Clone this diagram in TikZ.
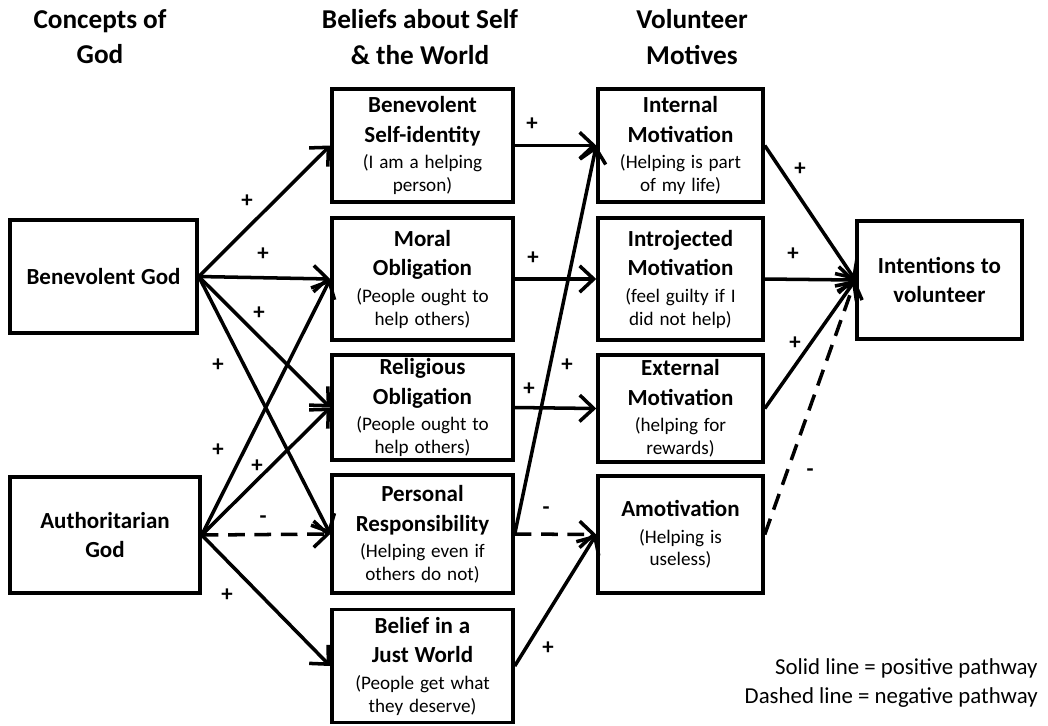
\documentclass[tikz,border=0pt]{standalone}
\usepackage{fontspec}
\setmainfont{Carlito}
\usetikzlibrary{arrows.meta}

\newcommand{\bhead}[1]{{\fontsize{13.1}{17}\selectfont\bfseries #1\par}}
\newcommand{\bnote}[1]{{\fontsize{10.9}{13}\selectfont\vspace{2pt}#1\par}}

\tikzset{
  box/.style={draw, line width=2pt, align=center, inner sep=1pt},
  pos path/.style={line width=2pt, -{Straight Barb[length=8pt,width=15pt]}},
  neg path/.style={pos path, dash pattern=on 9.5pt off 5.5pt},
  sign/.style={font=\fontsize{13}{15}\selectfont\bfseries, inner sep=0pt},
  heading/.style={align=center, font=\fontsize{15.5}{20}\selectfont\bfseries},
  legend/.style={anchor=east, font=\fontsize{13}{15}\selectfont, inner sep=0pt},
}

\begin{document}
\begin{tikzpicture}[x=0.02cm, y=-0.02cm]
    \useasboundingbox (0,0) rectangle (1048,725);

    % column headings
    \node[heading] (hGod) at (100,37) {Concepts of\\God};
    \node[heading] (hBelief) at (420,37) {Beliefs about Self\\\& the World};
    \node[heading] (hMotive) at (692,37) {Volunteer\\Motives};

    % concepts of God
    \node[box, minimum width=3.74cm, minimum height=2.26cm, text width=3.5cm] (bg) at (103.5,276.5) {\bhead{Benevolent God}};
    \node[box, minimum width=3.8cm, minimum height=2.32cm, text width=3.5cm] (ag) at (105,535) {\bhead{Authoritarian\\God}};

    % beliefs about self and the world
    \node[box, minimum width=3.62cm, minimum height=2.26cm, text width=3.4cm] (si) at (422.5,145.5) {\bhead{Benevolent\\Self-identity}\bnote{(I am a helping\\person)}};
    \node[box, minimum width=3.62cm, minimum height=2.44cm, text width=3.4cm] (mo) at (422.5,279) {\bhead{Moral\\Obligation}\bnote{(People ought to\\help others)}};
    \node[box, minimum width=3.62cm, minimum height=2.1cm, text width=3.4cm] (ro) at (422.5,407.5) {\bhead{Religious\\Obligation}\bnote{(People ought to\\help others)}};
    \node[box, minimum width=3.62cm, minimum height=2.36cm, text width=3.4cm] (pr) at (422.5,534) {\bhead{Personal\\Responsibility}\bnote{(Helping even if\\others do not)}};
    \node[box, minimum width=3.62cm, minimum height=2.26cm, text width=3.4cm] (jw) at (422.5,666) {\bhead{Belief in a\\Just World}\bnote{(People get what\\they deserve)}};

    % volunteer motives
    \node[box, minimum width=3.3cm, minimum height=2.26cm, text width=3.1cm] (im) at (680.5,145.5) {\bhead{Internal\\Motivation}\bnote{(Helping is part\\of my life)}};
    \node[box, minimum width=3.3cm, minimum height=2.44cm, text width=3.1cm] (ij) at (680.5,279) {\bhead{Introjected\\Motivation}\bnote{(feel guilty if I\\did not help)}};
    \node[box, minimum width=3.3cm, minimum height=2.14cm, text width=3.1cm] (ex) at (680.5,408.5) {\bhead{External\\Motivation}\bnote{(helping for\\rewards)}};
    \node[box, minimum width=3.3cm, minimum height=2.34cm, text width=3.1cm] (am) at (680.5,534.5) {\bhead{Amotivation}\bnote{(Helping is\\useless)}};

    % outcome
    \node[box, minimum width=3.3cm, minimum height=2.36cm, text width=3.1cm] (iv) at (939.5,280) {\bhead{Intentions to\\volunteer}};

    % pathways from concepts of God
    \draw[pos path] (bg.east) -- (si.west);
    \draw[pos path] (bg.east) -- (mo.west);
    \draw[pos path] (bg.east) -- (ro.west);
    \draw[pos path] (bg.east) -- (pr.west);
    \draw[pos path] (ag.east) -- (mo.west);
    \draw[pos path] (ag.east) -- (ro.west);
    \draw[neg path] (ag.east) -- (pr.west);
    \draw[pos path] (ag.east) -- (jw.west);

    % pathways to motives
    \draw[pos path] (si.east) -- (im.west);
    \draw[pos path] (mo.east) -- (ij.west);
    \draw[pos path] (ro.east) -- (ex.west);
    \draw[pos path] (pr.east) -- (im.west);
    \draw[neg path] (pr.east) -- (am.west);
    \draw[pos path] (jw.east) -- (am.west);

    % pathways to intentions
    \draw[pos path] (im.east) -- (iv.west);
    \draw[pos path] (ij.east) -- (iv.west);
    \draw[pos path] (ex.east) -- (iv.west);
    \draw[neg path] (am.east) -- (iv.west);

    % signs
    \node[sign] (s1) at (247,201) {+};
    \node[sign] (s2) at (263,254) {+};
    \node[sign] (s3) at (259,313) {+};
    \node[sign] (s4) at (218,365) {+};
    \node[sign] (s5) at (218,450) {+};
    \node[sign] (s6) at (257,466) {+};
    \node[sign] (s7) at (263,520) {-};
    \node[sign] (s8) at (227,595) {+};
    \node[sign] (s9) at (532,124) {+};
    \node[sign] (s10) at (533,258) {+};
    \node[sign] (s11) at (529,389) {+};
    \node[sign] (s12) at (567,365) {+};
    \node[sign] (s13) at (546,511) {-};
    \node[sign] (s14) at (548,648) {+};
    \node[sign] (s15) at (800,169) {+};
    \node[sign] (s16) at (793,254) {+};
    \node[sign] (s17) at (795,343) {+};
    \node[sign] (s18) at (810,473) {-};

    % legend
    \node[legend] (leg1) at (1038,668) {Solid line = positive pathway};
    \node[legend] (leg2) at (1038,698) {Dashed line = negative pathway};
\end{tikzpicture}
\end{document}
